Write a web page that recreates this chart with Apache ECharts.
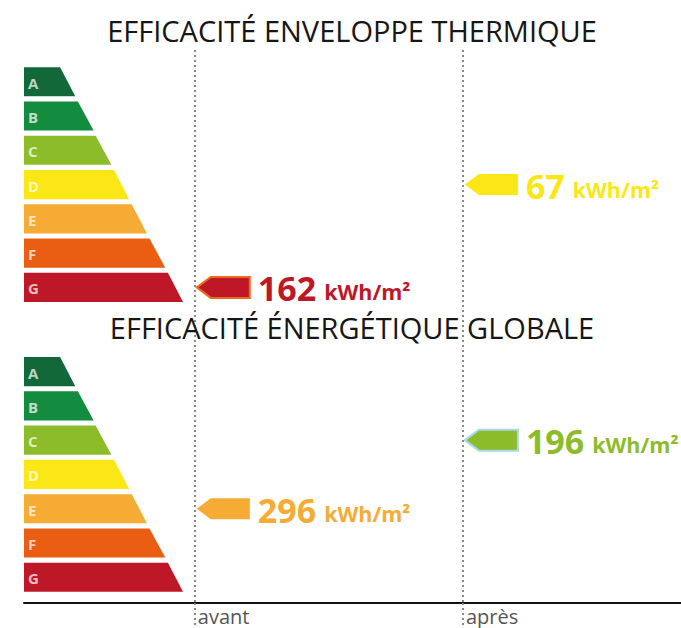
<!DOCTYPE html>
<html><head><meta charset="utf-8">
<script src="https://cdn.jsdelivr.net/npm/echarts@6/dist/echarts.min.js"></script>
<style>html,body{margin:0;padding:0;background:#fff}#c{width:681px;height:628px}</style>
</head><body><div id="c"></div>
<script>
// ---- data ----
const panelTitles = ['EFFICACITÉ ENVELOPPE THERMIQUE', 'EFFICACITÉ ÉNERGÉTIQUE GLOBALE'];
const classes = ['A', 'B', 'C', 'D', 'E', 'F', 'G'];
const classLenTop = [5.5, 8.2, 10.9, 13.7, 16.4, 19.1, 21.9];
const classLenBottom = [7.8, 10.6, 13.3, 16.0, 18.7, 21.5, 24.2];
const states = ['avant', 'après'];
const stateX = [26, 66.8];
const avantValues = [162, 296];
const avantClasses = ['G', 'E'];
const apresValues = [67, 196];
const apresClasses = ['D', 'C'];
const unitLabel = 'kWh/m²';

// ---- styles / layout ----
const classColors = ['#13683a', '#138c40', '#8cbc2a', '#fbe716', '#f5ab34', '#e95e13', '#be1727'];
const arrowOutline = { avant: ['#ec6a1e', null], apres: [null, '#a8d8ee'] };
const PANEL_OFFSET = 8.455;
const BAND_H = 0.85;
const FONT = '"Open Sans", "Liberation Sans", sans-serif';

const bandData = [];
[0, 1].forEach(p => classes.forEach((c, i) => bandData.push([p, i, classLenTop[i], classLenBottom[i]])));

const arrowData = [];
[0, 1].forEach(p => {
  const ia = classes.indexOf(avantClasses[p]);
  arrowData.push({ value: [stateX[0], p * PANEL_OFFSET + ia + BAND_H / 2, avantValues[p], ia], outline: arrowOutline.avant[p] });
  const ib = classes.indexOf(apresClasses[p]);
  arrowData.push({ value: [stateX[1], p * PANEL_OFFSET + ib + BAND_H / 2, apresValues[p], ib], outline: arrowOutline.apres[p] });
});

function renderBand(params, api) {
  const p = api.value(0), i = api.value(1);
  const top = p * PANEL_OFFSET + i, bottom = top + BAND_H;
  const a = api.coord([0, top]), b = api.coord([api.value(2), top]);
  const c = api.coord([api.value(3), bottom]), d = api.coord([0, bottom]);
  return {
    type: 'group', children: [
      { type: 'polygon', shape: { points: [a, b, c, d] }, style: { fill: classColors[i] } },
      { type: 'text', x: a[0] + 4, y: (a[1] + d[1]) / 2 + 1,
        style: { text: classes[i], fill: 'rgba(255,255,255,0.72)', fontSize: 15, fontWeight: 'bold', fontFamily: FONT, align: 'left', verticalAlign: 'middle' } }
    ]
  };
}

function renderArrow(params, api) {
  const pt = api.coord([api.value(0), api.value(1)]);
  const val = api.value(2), ci = api.value(3);
  const color = classColors[ci];
  const outline = arrowData[params.dataIndex].outline;
  const x = pt[0] + 2, y = pt[1], h = 10.5;
  return {
    type: 'group', children: [
      { type: 'polygon', shape: { points: [[x, y], [x + 14, y - h], [x + 53, y - h], [x + 53, y + h], [x + 14, y + h]] },
        style: { fill: color, stroke: outline || color, lineWidth: outline ? 2 : 0 } },
      { type: 'text', x: x + 61, y: y + 1,
        style: { text: '{n|' + val + '}{u|' + unitLabel + '}', align: 'left', verticalAlign: 'middle',
          rich: {
            n: { fontSize: 34, fontWeight: 'bold', fontFamily: FONT, fill: color },
            u: { fontSize: 21.5, fontWeight: 'bold', fontFamily: FONT, fill: color, padding: [7, 0, 0, 8] }
          } } }
    ]
  };
}

const chart = echarts.init(document.getElementById('c'), null, { renderer: 'svg' });
chart.setOption({
  animation: false,
  backgroundColor: '#fff',
  grid: { left: 24, right: 0, top: 50, bottom: 25 },
  xAxis: {
    type: 'value', min: 0, max: 100,
    splitLine: { show: false },
    axisLine: { show: true, onZero: false, lineStyle: { color: '#111', width: 2 } },
    axisTick: { show: true, customValues: stateX, length: 25, lineStyle: { color: '#888', width: 2, type: [2, 3] } },
    axisLabel: { show: true, customValues: stateX, align: 'left', margin: 3, padding: [0, 0, 0, 3], lineHeight: 20,
      formatter: v => states[stateX.indexOf(v)] || '', color: '#555', fontSize: 20, fontFamily: FONT }
  },
  yAxis: { type: 'value', inverse: true, min: -0.5, max: 15.63, show: false },
  graphic: panelTitles.map((t, k) => ({
    type: 'text', x: 352, y: k === 0 ? 30 : 327, z: 10,
    style: { text: t, align: 'center', verticalAlign: 'middle', fontSize: 29, fontFamily: FONT, fill: '#161616' }
  })),
  series: [
    { type: 'custom', renderItem: renderBand, data: bandData, silent: true },
    { type: 'custom', renderItem: renderArrow, data: arrowData, silent: true, z: 3,
      markLine: { silent: true, symbol: 'none', label: { show: false },
        lineStyle: { color: '#888', width: 2, type: [2, 3] },
        data: stateX.map(x => ({ xAxis: x })) } }
  ]
});
</script></body></html>
